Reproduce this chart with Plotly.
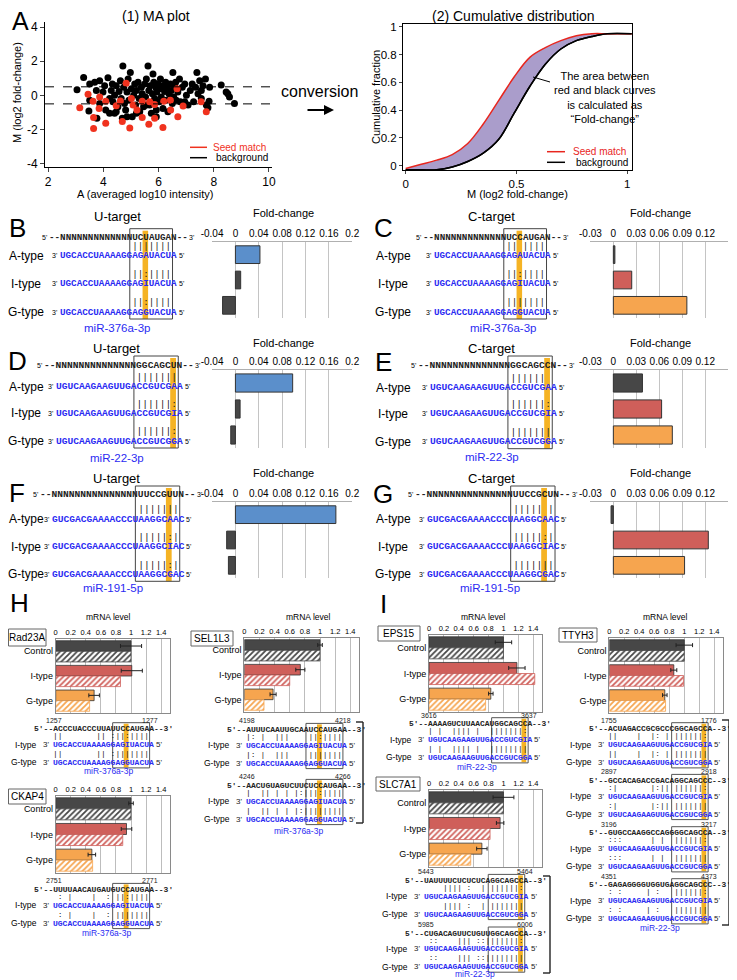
import plotly.graph_objects as go

# The page body keeps an 8 px margin, so the figure is drawn 8 px smaller and every
# position below is given in screenshot pixels and converted with that offset.
W, H = 737, 980
OFF = 8
FW, FH = W - OFF, H - OFF

# ======================= DATA =======================
# (A-1) MA plot points: A = averaged log10 intensity, M = log2 fold-change
ma_bg_A = [3.05, 3.29, 3.51, 3.51, 3.48, 3.69, 3.75, 3.77, 3.87, 3.87, 3.99, 4.05, 4.09, 4.17, 4.23, 4.29, 4.33, 4.35,
           4.41, 4.47, 4.47, 4.53, 4.57, 4.62, 4.65, 4.69, 4.71, 4.74, 4.77, 4.81, 4.86, 4.90, 4.93, 4.98, 5.02, 5.05,
           5.10, 5.14, 5.17, 5.20, 5.26, 5.30, 5.32, 5.38, 5.41, 5.46, 5.50, 5.53, 5.56, 5.62, 5.65, 5.68, 5.70, 5.74,
           5.78, 5.80, 5.83, 5.86, 5.90, 5.92, 5.94, 5.98, 6.02, 6.04, 6.07, 6.10, 6.14, 6.16, 6.22, 6.26, 6.28, 6.31,
           6.34, 6.38, 6.43, 6.46, 6.50, 6.52, 6.55, 6.58, 6.62, 6.64, 6.70, 6.76, 6.79, 6.86, 6.95, 7.01, 7.07, 7.15,
           7.22, 7.27, 7.34, 7.39, 7.43, 7.49, 7.55, 7.61, 7.70, 7.73, 7.83, 7.85, 8.27, 8.51, 8.57, 8.75, 7.55, 6.95,
           4.23, 4.41, 4.86, 5.20, 5.92, 5.56, 8.45, 7.79]
ma_bg_M = [0.33, 1.05, 0.67, -0.29, -0.92, 0.77, 0.29, -1.34, 0.86, -0.48, 0.19, 0.57, -0.86, 1.03, -0.19, 0.29, 0.67,
           -0.38, 0.00, 0.57, -0.96, -0.67, 0.23, 0.86, -0.19, -1.34, 1.72, 0.48, -0.48, -0.86, 0.19, 0.96, -0.29, 1.34,
           0.38, -1.25, 0.00, 0.67, -0.57, 0.29, 0.77, -0.19, -0.96, 0.48, 0.10, -0.67, 0.67, -0.10, 0.96, 1.72, 0.29,
           -0.57, 0.57, -1.05, 0.10, 1.25, 0.77, -0.19, 0.48, -0.86, 0.19, 0.67, -0.38, 0.38, 0.96, -0.10, 0.57, -0.77,
           0.23, 0.77, -0.29, 0.48, -0.96, 0.10, 0.67, 0.29, -0.48, 1.34, -0.10, 0.57, 0.77, -0.29, 0.19, 0.96, -0.38,
           0.48, 0.67, 0.00, -0.57, 0.29, 0.67, -0.38, 0.48, 1.34, 0.10, 0.86, 0.29, 0.57, 0.96, -0.57, -0.34, 0.48,
           0.61, 0.10, -0.10, -0.48, -0.19, -0.38, -1.05, -1.05, -1.25, -1.05, -1.25, -0.57, 0.19, -0.73]
ma_seed_A = [3.15, 3.45, 3.63, 3.65, 3.65, 3.85, 3.87, 4.09, 4.09, 4.47, 4.62, 4.69, 4.83, 4.96, 5.02, 5.08, 5.22,
             5.41, 5.41, 5.68, 5.65, 5.86, 5.86, 6.16, 6.19, 6.43, 6.44, 6.67, 6.70, 6.89, 7.54, 7.73]
ma_seed_M = [-0.73, 0.06, -0.34, -1.30, -1.95, -0.77, -0.10, -0.34, -1.63, -0.61, -0.33, -1.53, 0.71, -1.92, -0.19,
             -0.57, -0.86, -0.34, -1.30, -0.38, -1.69, -0.54, -1.34, -1.88, -0.34, -0.29, -0.86, 0.38, -1.25, -0.63,
             -0.38, -0.96]
ma_cutoffs = [0.5, -0.5]

# (A-2) cumulative distributions
cdf_M = [0, 0.07, 0.14, 0.21, 0.28, 0.35, 0.42, 0.49, 0.56, 0.63, 0.70, 0.77, 0.84, 0.91, 1.02]
cdf_seed = [-0.02, 0.01, 0.04, 0.08, 0.16, 0.30, 0.47, 0.64, 0.78, 0.85, 0.90, 0.935, 0.95, 0.95, 0.95]
cdf_bg = [-0.03, -0.03, -0.03, -0.01, 0.03, 0.09, 0.19, 0.38, 0.57, 0.73, 0.84, 0.90, 0.93, 0.95, 0.95]

# (B-G) fold-change
fc_types = ["A-type", "I-type", "G-type"]
fc_B = [0.042, 0.009, -0.022]
fc_C = [0.002, 0.024, 0.096]
fc_D = [0.098, 0.008, -0.008]
fc_E = [0.038, 0.063, 0.077]
fc_F = [0.172, -0.015, -0.012]
fc_G = [-0.003, 0.124, 0.093]
fc_ticks_U = [-0.04, 0, 0.04, 0.08, 0.12, 0.16, 0.2]
fc_ticklabels_U = ["-0.04", "0", "0.04", "0.08", "0.12", "0.16", "0.2"]
fc_ticks_C = [-0.03, 0, 0.03, 0.06, 0.09, 0.12, 0.15]
fc_ticklabels_C = ["-0.03", "0", "0.03", "0.06", "0.09", "0.12", "0.15"]

# (H, I) mRNA levels: solid bars (with error) and hatched bars
mrna_groups = ["Control", "I-type", "G-type"]
mrna_ticks = [0, 0.2, 0.4, 0.6, 0.8, 1, 1.2, 1.4]
mrna_ticklabels = ["0", "0.2", "0.4", "0.6", "0.8", "1", "1.2", "1.4"]
rad23a_solid = [1.00, 1.01, 0.51]
rad23a_err = [0.14, 0.14, 0.07]
rad23a_hatched = [1.00, 0.86, 0.45]
sel1l3_solid = [1.00, 0.74, 0.38]
sel1l3_err = [0.03, 0.06, 0.04]
sel1l3_hatched = [1.00, 0.60, 0.26]
ckap4_solid = [1.00, 0.94, 0.48]
ckap4_err = [0.03, 0.07, 0.05]
ckap4_hatched = [1.00, 0.89, 0.49]
eps15_solid = [1.00, 1.18, 0.83]
eps15_err = [0.11, 0.11, 0.03]
eps15_hatched = [1.00, 1.42, 0.76]
ttyh3_solid = [1.00, 0.86, 0.74]
ttyh3_err = [0.11, 0.04, 0.03]
ttyh3_hatched = [1.00, 0.99, 0.75]
slc7a1_solid = [1.00, 0.955, 0.71]
slc7a1_err = [0.14, 0.05, 0.07]
slc7a1_hatched = [1.00, 0.82, 0.56]

# sequences
mir376a = "UGCACCUAAAAGGAGAUACUA"
mir22 = "UGUCAAGAAGUUGACCGUCGAA"
mir191 = "GUCGACGAAAACCCUAAGGCAAC"
tgt_B = "NNNNNNNNNNNNNUCUAUGAN"
tgt_C = "NNNNNNNNNNNNNUCCAUGAN"
tgt_D = "NNNNNNNNNNNNNNGGCAGCUN"
tgt_E = "NNNNNNNNNNNNNNGGCAGCCN"
tgt_F = "NNNNNNNNNNNNNNNUUCCGUUN"
tgt_G = "NNNNNNNNNNNNNNNUUCCGCUN"
site_rad23a = ("ACCCUACCCUUAUUCCAUGAA", "1257", "1277")
site_sel1l3_1 = ("AUUUCAAUUGCAAUCCAUGAA", "4198", "4218")
site_sel1l3_2 = ("AACUGUAGUCUUCUCCAUGAA", "4246", "4266")
site_ckap4 = ("UUUUAACAUGAUGUCCAUGAA", "2751", "2771")
site_eps15 = ("AAAAGUCUUAACAUGGCAGCCA", "3616", "3637")
site_slc7a1_1 = ("UAUUUUCUCUCUCAGGCAGCCA", "5443", "5464")
site_slc7a1_2 = ("CUGACAGUUCUGUUGGCAGCCA", "5985", "6006")
site_ttyh3_1 = ("ACUAGACCGCGCCCGGCAGCCA", "1755", "1776")
site_ttyh3_2 = ("GCCACAGACCGACAGGCAGCCC", "2897", "2918")
site_ttyh3_3 = ("GUGCCAAGGCCAGGGGCAGCCA", "3196", "3217")
site_ttyh3_4 = ("GAGAGGGGUGGUGAGGCAGCCC", "4351", "4373")

# ======================= STYLE / HELPERS =======================
SANS = "Liberation Sans, Arial, sans-serif"
MONO = "Liberation Mono, DejaVu Sans Mono, monospace"
SEQ_BLUE = "#2b2bf2"
HL = "#f5b324"
C_BLUE = "#5b8fcb"
C_DARK = "#474747"
C_RED = "#cf5f5a"
C_ORANGE = "#f6a54f"
EDGE = "#333333"
NB = "\u00a0"


def X(px):
    return (px - OFF) / FW


def Y(py):
    return 1 - (py - OFF) / FH


annotations = []
shapes = []


def txt(x, y, s, size=11, color="black", xanchor="center", family=SANS, angle=0):
    annotations.append(dict(x=X(x), y=Y(y), xref="paper", yref="paper", text=s, showarrow=False,
                            font=dict(family=family, size=size, color=color), xanchor=xanchor,
                            yanchor="middle", textangle=angle, borderpad=0))


def rect(x0, y0, x1, y1, line_color=None, fill=None, width=1):
    shapes.append(dict(type="rect", xref="paper", yref="paper", x0=X(x0), x1=X(x1), y0=Y(y1), y1=Y(y0),
                       line=dict(color=line_color if line_color else "rgba(0,0,0,0)",
                                 width=width if line_color else 0),
                       fillcolor=fill if fill else "rgba(0,0,0,0)", layer="above"))


def seg(x0, y0, x1, y1, color="black", width=1, dash="solid"):
    shapes.append(dict(type="line", xref="paper", yref="paper", x0=X(x0), y0=Y(y0), x1=X(x1), y1=Y(y1),
                       line=dict(color=color, width=width, dash=dash), layer="above"))


WC = {("A", "U"), ("U", "A"), ("G", "C"), ("C", "G")}
WOB = {("G", "U"), ("U", "G"), ("I", "U"), ("I", "C")}


def pair_line(mir, tgt):
    out = []
    for m, t in zip(mir, tgt):
        if (m, t) in WC:
            out.append("|")
        elif (m, t) in WOB:
            out.append(":")
        else:
            out.append(NB)
    return "".join(out)


def edited(mir, pos, base):
    return mir[:pos] + base + mir[pos + 1:]


fig = go.Figure()
layout_axes = {}


def ax_names(k):
    return ("xaxis" if k == 1 else f"xaxis{k}", "yaxis" if k == 1 else f"yaxis{k}",
            "x" if k == 1 else f"x{k}", "y" if k == 1 else f"y{k}")


# ======================= (A) MA plot =======================
xa, ya, xr, yr = ax_names(1)
fig.add_trace(go.Scatter(x=ma_bg_A, y=ma_bg_M, mode="markers", marker=dict(color="black", size=7),
                         xaxis=xr, yaxis=yr, showlegend=False))
fig.add_trace(go.Scatter(x=ma_seed_A, y=ma_seed_M, mode="markers", marker=dict(color="#f0321e", size=7),
                         xaxis=xr, yaxis=yr, showlegend=False))
layout_axes[xa] = dict(domain=[X(45), X(272)], range=[1.891, 10.109], anchor=yr, showline=True, linecolor="black",
                       ticks="outside", ticklen=4, tickvals=[2, 4, 6, 8, 10], showgrid=False, zeroline=False,
                       tickfont=dict(family=SANS, size=12))
layout_axes[ya] = dict(domain=[Y(167), Y(22)], range=[-4.2, 4.3], anchor=xr, showline=True, linecolor="black",
                       ticks="outside", ticklen=4, tickvals=[-4, -2, 0, 2, 4],
                       ticktext=["-4", "-2", "0", "2", "4"], showgrid=False, zeroline=False,
                       tickfont=dict(family=SANS, size=12))
for c in ma_cutoffs:
    shapes.append(dict(type="line", xref="x domain", yref="y", x0=0, x1=1, y0=c, y1=c,
                       line=dict(color="black", width=1, dash="dash")))
txt(156, 16, "(1) MA plot", 14)
txt(145, 194, "A (averaged log10 intensity)", 11)
txt(17, 93, "M (log2 fold-change)", 11, angle=-90)
seg(190, 147.3, 207, 147.3, "#f0321e", 1.5)
txt(212, 147.3, "Seed match", 10, "#f0321e", "left")
seg(190, 157.7, 207, 157.7, "black", 1.5)
txt(215, 157.7, "background", 10, "black", "left")
txt(20, 21, "A", 25)
txt(319, 92, "conversion", 16)
annotations.append(dict(x=X(334), y=Y(110), xref="paper", yref="paper", ax=-28, ay=0, text="",
                        showarrow=True, arrowhead=2, arrowsize=1, arrowwidth=2, arrowcolor="black"))

# ======================= (A) cumulative distribution =======================
xa, ya, xr, yr = ax_names(2)
fig.add_trace(go.Scatter(x=cdf_M, y=cdf_bg, mode="lines", line=dict(color="black", width=1.5, shape="spline"),
                         xaxis=xr, yaxis=yr, showlegend=False))
fig.add_trace(go.Scatter(x=cdf_M, y=cdf_seed, mode="lines", line=dict(color="#e8261e", width=1.5, shape="spline"),
                         fill="tonexty", fillcolor="#aa9dcb", xaxis=xr, yaxis=yr, showlegend=False))
fig.add_trace(go.Scatter(x=cdf_M, y=cdf_bg, mode="lines", line=dict(color="black", width=1.5, shape="spline"),
                         xaxis=xr, yaxis=yr, showlegend=False))
layout_axes[xa] = dict(domain=[X(403), X(632)], range=[-0.0122, 1.0212], anchor=yr, showline=True, mirror=True,
                       linecolor="black", ticks="outside", ticklen=3, tickvals=[0, 0.5, 1],
                       ticktext=["0", "0.5", "1"], showgrid=False, zeroline=False,
                       tickfont=dict(family=SANS, size=11.5))
layout_axes[ya] = dict(domain=[Y(170), Y(24)], range=[-0.031, 1.02], anchor=xr, showline=True, mirror=True,
                       linecolor="black", ticks="outside", ticklen=3, tickvals=[0, 0.2, 0.4, 0.6, 0.8, 1],
                       ticktext=["0", "0.2", "0.4", "0.6", "0.8", "1"], showgrid=False, zeroline=False,
                       tickfont=dict(family=SANS, size=11.5))
txt(513, 16, "(2) Cumulative distribution", 14)
txt(517, 194, "M (log2 fold-change)", 11)
txt(376, 97, "Cumulative fraction", 11, angle=-90)
txt(605, 97, "The area between<br>red and black curves<br>is calculated as<br>\u201cFold-change\u201d", 11)
seg(533, 77, 550, 82, "black", 1)
seg(547, 151.7, 565, 151.7, "#e8261e", 1.5)
txt(572, 151.7, "Seed match", 10, "#e8261e", "left")
seg(547, 162.3, 565, 162.3, "black", 1.5)
txt(575, 162.3, "background", 10, "black", "left")

# ======================= (B-G) fold-change panels =======================
fc_panels = [
    # k, values, colors, xdom, ydom, range, ticks, ticklabels, title_y
    (3, fc_B, [C_BLUE, C_DARK, C_DARK], (212, 352.3), (242, 318), [-0.0401, 0.2001], fc_ticks_U, fc_ticklabels_U, 213),
    (4, fc_C, [C_DARK, C_RED, C_ORANGE], (590.3, 728.3), (242, 318), [-0.0301, 0.1501], fc_ticks_C, fc_ticklabels_C, 213),
    (5, fc_D, [C_BLUE, C_DARK, C_DARK], (212, 352.3), (370, 448), [-0.0401, 0.2001], fc_ticks_U, fc_ticklabels_U, 343),
    (6, fc_E, [C_DARK, C_RED, C_ORANGE], (590.3, 728.3), (370, 448), [-0.0301, 0.1501], fc_ticks_C, fc_ticklabels_C, 343),
    (7, fc_F, [C_BLUE, C_DARK, C_DARK], (212, 352.3), (502, 578), [-0.0401, 0.2001], fc_ticks_U, fc_ticklabels_U, 473),
    (8, fc_G, [C_DARK, C_RED, C_ORANGE], (590.3, 728.3), (502, 578), [-0.0301, 0.1501], fc_ticks_C, fc_ticklabels_C, 473),
]
for k, vals, cols, xd, yd, rng, tv, tt, ty in fc_panels:
    xa, ya, xr, yr = ax_names(k)
    fig.add_trace(go.Bar(y=fc_types, x=vals, orientation="h", width=0.7,
                         marker=dict(color=cols, line=dict(color=EDGE, width=1)),
                         xaxis=xr, yaxis=yr, showlegend=False))
    layout_axes[xa] = dict(domain=[X(xd[0]), X(xd[1])], range=rng, anchor=yr, side="top", tickvals=tv,
                           ticktext=tt, tickangle=0, showgrid=True, gridcolor="#c4c4c4", gridwidth=1, showline=True,
                           linecolor="#b0b0b0", ticks="", zeroline=False, tickfont=dict(family=SANS, size=10))
    layout_axes[ya] = dict(domain=[Y(yd[1]), Y(yd[0])], anchor=xr, type="category", autorange="reversed",
                           showticklabels=False, showgrid=False, showline=False, zeroline=False, ticks="")
    txt((xd[0] + xd[1]) / 2 + 1, ty, "Fold-change", 11)


def seq_panel(x0, fs, ty, rows_y, mir, edit, tgt, label_x, title, title_xy, mirname, mir_xy, letter, letter_xy):
    cw = 0.6 * fs
    n = len(mir)
    k0 = n - 8
    rect(x0 + edit * cw, ty - 7, x0 + (edit + 1) * cw, rows_y[-1] + 7, fill=HL)
    rect(x0 + (k0 - 0.3) * cw, ty - 9, x0 + (n - 0.6) * cw, rows_y[-1] + 7, line_color="#444444", width=1)
    txt(x0 - 2 * cw, ty, "<b>--" + tgt + "--</b>", fs, "#222222", "left", MONO)
    txt(x0 - 2 * cw - 0.5, ty, "5'", 7, "black", "right", SANS)
    txt(x0 + (n + 2) * cw + 1, ty, "3'", 7, "black", "left", SANS)
    variants = [mir, edited(mir, edit, "I"), edited(mir, edit, "G")]
    for lab, s, yy in zip(fc_types, variants, rows_y):
        txt(x0, yy - 9.3, pair_line(s, tgt), fs, "#222222", "left", MONO)
        txt(x0, yy, "<b>" + s + "</b>", fs, SEQ_BLUE, "left", MONO)
        txt(x0 - 1, yy, "3'", 7, "black", "right", SANS)
        txt(x0 + n * cw + 2, yy, "5'", 7, "black", "left", SANS)
        txt(label_x, yy, lab, 12)
    txt(title_xy[0], title_xy[1], title, 13)
    txt(mir_xy[0], mir_xy[1], mirname, 11.5, SEQ_BLUE)
    txt(letter_xy[0], letter_xy[1], letter, 26)


seq_panel(59.3, 9.25, 237.7, [255.7, 284, 312], mir376a, 15, tgt_B, 26, "U-target", (117.5, 216.7),
          "miR-376a-3p", (116.7, 328), "B", (17, 227.5))
seq_panel(433.3, 9.25, 237.7, [256, 284, 312], mir376a, 15, tgt_C, 393, "C-target", (491.7, 216.7),
          "miR-376a-3p", (503.3, 328.3), "C", (384, 227.5))
seq_panel(55, 9.6, 365, [386.7, 413.3, 441], mir22, 20, tgt_D, 26, "U-target", (116.7, 348),
          "miR-22-3p", (116.7, 458.3), "D", (17, 361))
seq_panel(429, 9.6, 365, [387.7, 414, 441.7], mir22, 20, tgt_E, 393, "C-target", (491.7, 348),
          "miR-22-3p", (491.7, 457.3), "E", (383, 362))
seq_panel(50.7, 9.6, 495, [519.3, 546.7, 574.3], mir191, 20, tgt_F, 26, "U-target", (116.7, 479),
          "miR-191-5p", (113, 587.7), "F", (17, 492.5))
seq_panel(426, 9.6, 495, [519.3, 546.7, 574.3], mir191, 20, tgt_G, 393, "C-target", (491.7, 479),
          "miR-191-5p", (490, 587.7), "G", (383, 494))

# ======================= (H, I) mRNA level panels =======================
mrna_panels = [
    (9, rad23a_solid, rad23a_err, rad23a_hatched, (55.7, 170.2), (639, 713)),
    (10, sel1l3_solid, sel1l3_err, sel1l3_hatched, (244.3, 359.4), (638, 712)),
    (11, ckap4_solid, ckap4_err, ckap4_hatched, (55.7, 170.2), (796, 873)),
    (12, eps15_solid, eps15_err, eps15_hatched, (429, 542.2), (635, 712)),
    (13, ttyh3_solid, ttyh3_err, ttyh3_hatched, (609.3, 723.3), (638, 713)),
    (14, slc7a1_solid, slc7a1_err, slc7a1_hatched, (429, 542.2), (790, 867)),
]
grp_cols = [C_DARK, C_RED, C_ORANGE]
for k, sol, err, hat, xd, yd in mrna_panels:
    xa, ya, xr, yr = ax_names(k)
    fig.add_trace(go.Bar(y=mrna_groups, x=sol, orientation="h", offsetgroup="a",
                         marker=dict(color=grp_cols, line=dict(color=EDGE, width=0.8)),
                         error_x=dict(type="data", array=err, visible=True, color="#222222", thickness=1, width=2),
                         xaxis=xr, yaxis=yr, showlegend=False))
    fig.add_trace(go.Bar(y=mrna_groups, x=hat, orientation="h", offsetgroup="b",
                         marker=dict(color="white", line=dict(color=grp_cols, width=0.8),
                                     pattern=dict(shape="/", fgcolor=grp_cols, bgcolor="white", size=4,
                                                  solidity=0.45, fillmode="replace")),
                         xaxis=xr, yaxis=yr, showlegend=False))
    layout_axes[xa] = dict(domain=[X(xd[0]), X(xd[1])], range=[0, 1.52], anchor=yr, side="top",
                           tickvals=mrna_ticks, ticktext=mrna_ticklabels, tickangle=0, showgrid=True,
                           gridcolor="#bdbdbd", gridwidth=1, showline=True, mirror=True, linecolor="#8a8a8a",
                           ticks="", zeroline=False, tickfont=dict(family=SANS, size=7.5))
    layout_axes[ya] = dict(domain=[Y(yd[1]), Y(yd[0])], anchor=xr, type="category", autorange="reversed",
                           showgrid=False, showline=True, mirror=True, linecolor="#8a8a8a", zeroline=False,
                           ticks="", tickfont=dict(family=SANS, size=9))

for ax in layout_axes.values():
    ax["automargin"] = False

for cx in (108.3, 308.3):
    txt(cx, 616.7, "mRNA level", 8.5)
for cx in (483.3, 665):
    txt(cx, 616.7, "mRNA level", 8.5)

gene_boxes = [("Rad23A", (8.5, 629, 46, 646)), ("SEL1L3", (191, 631, 233, 646)), ("CKAP4", (8.5, 789, 46, 804)),
              ("EPS15", (378, 626, 420, 641)), ("TTYH3", (559, 628, 597, 642)), ("SLC7A1", (376, 777, 420, 791))]
for name, (a, b, c, d) in gene_boxes:
    rect(a, b, c, d, line_color="#666666", width=1)
    txt((a + c) / 2, (b + d) / 2, name, 10)

txt(19, 603, "H", 26)
txt(384, 603.5, "I", 26)


def site_block(x0, num_y, site, mir, edit, fs):
    tgt, n1, n2 = site
    cw = 0.6 * fs
    n = len(mir)
    k0 = n - 8
    ty = num_y + 8.7
    rows = [num_y + 24.5, num_y + 42.3]
    rect(x0 + edit * cw, ty - 5, x0 + (edit + 1) * cw, rows[-1] + 5, fill=HL)
    rect(x0 + (k0 - 0.3) * cw, ty - 6, x0 + (n - 0.6) * cw, rows[-1] + 5.6, line_color="#555555", width=1)
    txt(x0 + 0.5 * cw, num_y, n1, 7, "#222222")
    txt(x0 + (n - 0.5) * cw, num_y, n2, 7, "#222222")
    txt(x0 - 4 * cw, ty, "<b>5'--" + tgt + "--3'</b>", fs, "#222222", "left", MONO)
    for lab, s, yy in zip(["I-type", "G-type"], [edited(mir, edit, "I"), edited(mir, edit, "G")], rows):
        txt(x0, yy - 8.7, pair_line(s, tgt), fs, "#222222", "left", MONO)
        txt(x0, yy, "<b>" + s + "</b>", fs, SEQ_BLUE, "left", MONO)
        txt(x0 - 2, yy, "3'", fs, "#222222", "right", SANS)
        txt(x0 + n * cw + 2, yy, "5'", fs, "#222222", "left", SANS)
        txt(x0 - 14, yy, lab, 8.5, "black", "right")


site_block(51.7, 720, site_rad23a, mir376a, 15, 8)
site_block(245, 720.7, site_sel1l3_1, mir376a, 15, 8)
site_block(245, 776.7, site_sel1l3_2, mir376a, 15, 8)
site_block(51.7, 880.7, site_ckap4, mir376a, 15, 8)
site_block(426.7, 715, site_eps15, mir22, 20, 7.9)
site_block(423.3, 871.7, site_slc7a1_1, mir22, 20, 7.9)
site_block(423.3, 924.3, site_slc7a1_2, mir22, 20, 7.9)
site_block(606.7, 720, site_ttyh3_1, mir22, 20, 7.9)
site_block(606.7, 771.7, site_ttyh3_2, mir22, 20, 7.9)
site_block(606.7, 824, site_ttyh3_3, mir22, 20, 7.9)
site_block(606.7, 876, site_ttyh3_4, mir22, 20, 7.9)

txt(108, 771, "miR-376a-3p", 8.5, SEQ_BLUE)
txt(298.3, 830.7, "miR-376a-3p", 8.5, SEQ_BLUE)
txt(106.7, 933.3, "miR-376a-3p", 8.5, SEQ_BLUE)
txt(476.7, 766.7, "miR-22-3p", 8.5, SEQ_BLUE)
txt(475, 974.3, "miR-22-3p", 8.5, SEQ_BLUE)
txt(660, 927.7, "miR-22-3p", 8.5, SEQ_BLUE)

# brackets
for xb, yt, yb in [(363, 722, 823), (550, 876, 973), (729, 720, 925)]:
    seg(xb - 7, yt, xb, yt, "#222222", 1.4)
    seg(xb, yt, xb, yb, "#222222", 1.4)
    seg(xb - 7, yb, xb, yb, "#222222", 1.4)

fig.update_layout(
    width=FW, height=FH, margin=dict(l=0, r=0, t=0, b=0, autoexpand=False),
    paper_bgcolor="white", plot_bgcolor="white",
    barmode="group", bargap=0.14, bargroupgap=0.0,
    showlegend=False, font=dict(family=SANS, color="black"),
    annotations=annotations, shapes=shapes,
    **layout_axes,
)
fig.write_html("out.html")
